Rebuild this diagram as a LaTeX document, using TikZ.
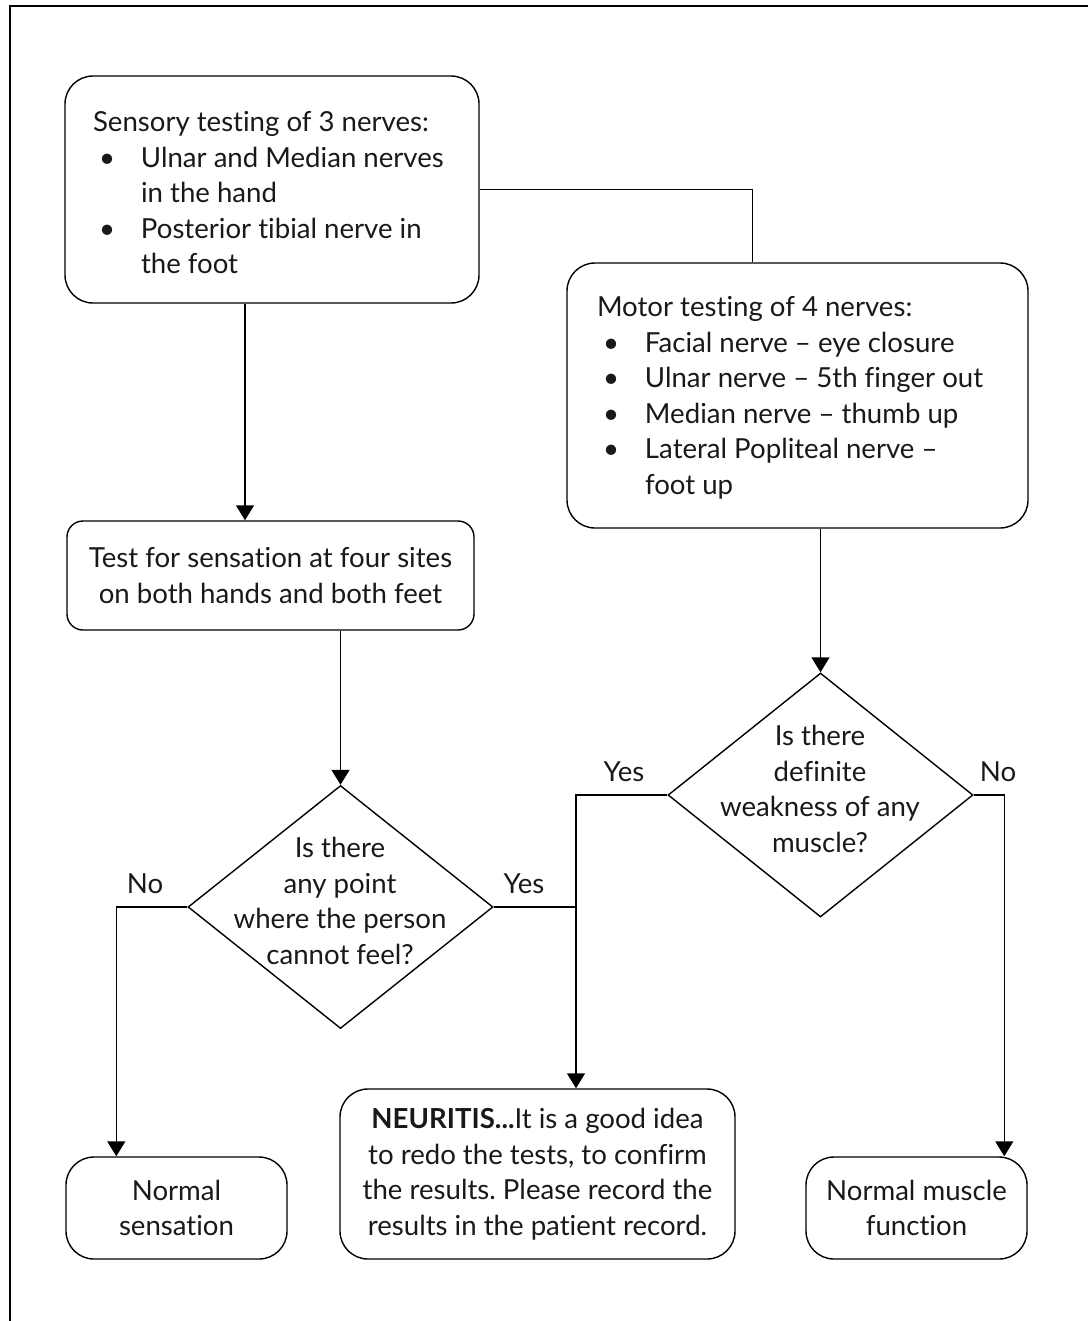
\documentclass[tikz,border=0pt]{standalone}
\usepackage{fontspec}
\setmainfont{Lato}[Ligatures=NoCommon]
\usetikzlibrary{shapes.geometric,arrows.meta,calc}
\frenchspacing

% bullet item and continuation line for the left-aligned lists
\newcommand\bitem[1]{\makebox[24pt][l]{\hspace{3pt}\textbullet}#1}
\newcommand\bcont[1]{\hspace*{24pt}#1}

\begin{document}
\begin{tikzpicture}[x=0.5pt,y=-0.5pt,
  line width=0.7pt,
  every node/.style={font=\fontsize{13.8pt}{17.75pt}\selectfont, text=black!90},
  box/.style={draw, rounded corners=14pt, inner sep=0pt, align=center},
  smallbox/.style={box, rounded corners=8pt},
  decision/.style={draw, diamond, inner sep=0pt},
  listtxt/.style={anchor=west, align=left, inner sep=0pt},
  qtxt/.style={align=center, inner sep=0pt},
  arr/.style={-{Triangle[width=9pt,length=7.5pt]}},
]
\useasboundingbox (0,0) rectangle (1088,1321);
\draw[line width=1pt] (10,1321) -- (10,6) -- (1088,6);

% sensory branch
\node[box, minimum width=207pt, minimum height=113.5pt] (sens) at (272,189.5) {};
\node[listtxt] (senstxt) at ($(sens.west)+(28,3.5)$) {%
  Sensory testing of 3 nerves:\\
  \bitem{Ulnar and Median nerves}\\
  \bcont{in the hand}\\
  \bitem{Posterior tibial nerve in}\\
  \bcont{the foot}};

% motor branch
\node[box, minimum width=230.5pt, minimum height=132.5pt] (mot) at (797.5,395.5) {};
\node[listtxt] (mottxt) at ($(mot.west)+(30,2.5)$) {%
  Motor testing of 4 nerves:\\
  \bitem{Facial nerve – eye closure}\\
  \bitem{Ulnar nerve – 5th finger out}\\
  \bitem{Median nerve – thumb up}\\
  \bitem{Lateral Popliteal nerve –}\\
  \bcont{foot up}};

\node[smallbox, minimum width=203.5pt, minimum height=54.5pt] (test) at (270.5,575.5)
  {Test for sensation at four sites\\on both hands and both feet};

% decisions
\node[decision, minimum width=152.5pt, minimum height=121.5pt] (d1) at (340.5,907) {};
\node[qtxt] (d1txt) at (340,901) {Is there\\any point\\where the person\\cannot feel?};
\node[decision, minimum width=152.5pt, minimum height=122pt] (d2) at (820.5,795) {};
\node[qtxt] (d2txt) at (820,789) {Is there\\definite\\weakness of any\\muscle?};

% outcomes
\node[box, minimum width=110.5pt, minimum height=51pt] (nsens) at (176.5,1208) {Normal\\sensation};
\node[box, minimum width=197.5pt, minimum height=85pt] (neur) at (537.5,1174)
  {\textbf{NEURITIS...}It is a good idea\\to redo the tests, to confirm\\the results. Please record the\\results in the patient record.};
\node[box, minimum width=110.5pt, minimum height=51pt] (nmus) at (916.5,1208) {Normal muscle\\function};

% branch labels
\node (lno1) at (145,884) {No};
\node (lyes1) at (524,884) {Yes};
\node (lyes2) at (624,772) {Yes};
\node (lno2) at (998,772) {No};

% connectors
\coordinate (j) at (576,907);
\draw (sens.east) -| ($(mot.north west)+(186,0)$);
\draw[arr] (sens.south -| 245,0) -- (test.north -| 245,0);
\draw[arr] (test.south -| d1.north) -- (d1.north);
\draw[arr] (mot.south -| d2.north) -- (d2.north);
\draw[arr] (d1.west) -| ($(nsens.north west)+(51,0)$);
\draw (d1.east) -- (j);
\draw[arr] (d2.west) -| (neur.north -| j);
\draw[arr] (d2.east) -| ($(nmus.north west)+(199,0)$);
\end{tikzpicture}
\end{document}
